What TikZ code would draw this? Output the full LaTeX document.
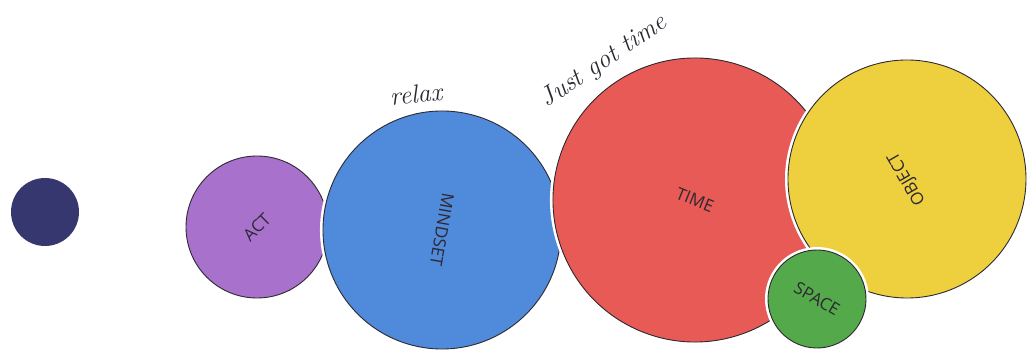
\documentclass[tikz,border=0pt]{standalone}
\usepackage{fontspec}
\setsansfont{Open Sans}
\usetikzlibrary{positioning}
\definecolor{navy}{RGB}{55,55,112}
\definecolor{lilac}{RGB}{168,114,204}
\definecolor{sky}{RGB}{80,138,218}
\definecolor{tomato}{RGB}{232,90,86}
\definecolor{mustard}{RGB}{238,208,62}
\definecolor{leaf}{RGB}{84,170,74}
\definecolor{ink}{RGB}{45,40,50}

\begin{document}
\begin{tikzpicture}[
  x=1pt, y=-1pt,
  font=\sffamily\fontsize{17}{17}\selectfont,
  disc/.style={
    circle, draw=ink, line width=0.9pt, inner sep=0pt, text=ink,
    preaction={draw=white, line width=6pt}
  },
  dot/.style={circle, fill=navy, inner sep=0pt},
  scribble/.style={font=\rmfamily\itshape\fontsize{26}{26}\selectfont, text=ink},
]
\useasboundingbox[fill=white] (0,0) rectangle (1029,352);

\node[dot, minimum size=68pt] (dot) at (45,212) {};

% discs, each with its label turned as on the paper
\node[disc, fill=lilac, minimum size=142pt, rotate=45] (act) at (257,227) {ACT};
\node[disc, fill=sky, minimum size=238pt, rotate=-100] (mind) at (442,230) {MINDSET};
\node[disc, fill=tomato, minimum size=284pt, rotate=-22] (time) at (695,200) {TIME};
\node[disc, fill=mustard, minimum size=238pt, rotate=120] (obj) at (907,179) {OBJECT};
\node[disc, fill=leaf, minimum size=98pt, rotate=-30] (space) at (817,299) {SPACE};

% handwritten notes
\node[scribble, rotate=6] (relax) at (416,94) {relax};
\node[scribble, rotate=34] (note) at (604,62) {Just got time};
\end{tikzpicture}
\end{document}
